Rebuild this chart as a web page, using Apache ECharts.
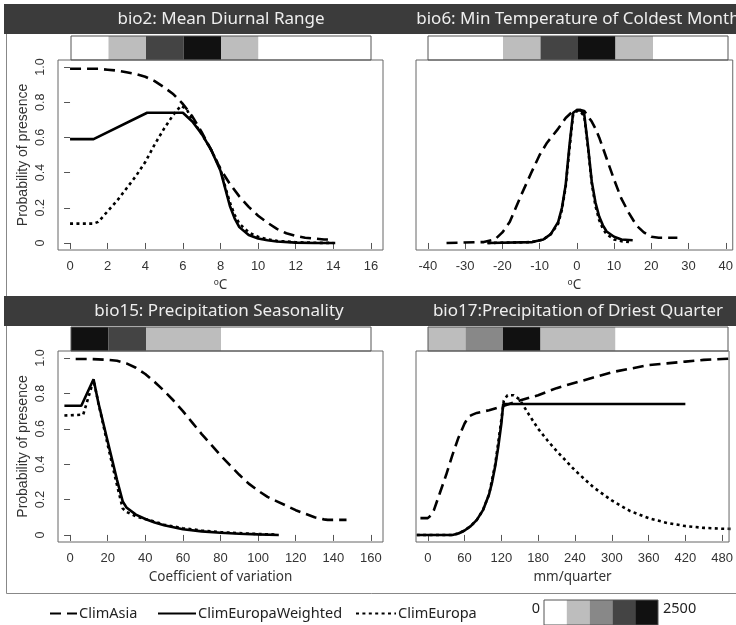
<!DOCTYPE html>
<html>
<head>
<meta charset="utf-8">
<script src="https://cdn.jsdelivr.net/npm/echarts@6/dist/echarts.min.js"></script>
<style>
html,body{margin:0;padding:0;background:#fff;}
#chart{width:736px;height:625px;}
</style>
</head>
<body>
<div id="chart"></div>
<script>
// ---- data ----
var seriesNames = ['ClimAsia', 'ClimEuropaWeighted', 'ClimEuropa'];
var titles = ['bio2: Mean Diurnal Range', 'bio6: Min Temperature of Coldest Month',
              'bio15: Precipitation Seasonality', 'bio17:Precipitation of Driest Quarter'];
var xNames = ['\u00baC', '\u00baC', 'Coefficient of variation', 'mm/quarter'];
var xTicks2 = [0, 2, 4, 6, 8, 10, 12, 14, 16];
var xTicks6 = [-40, -30, -20, -10, 0, 10, 20, 30, 40];
var xTicks15 = [0, 20, 40, 60, 80, 100, 120, 140, 160];
var xTicks17 = [0, 60, 120, 180, 240, 300, 360, 420, 480];
var yTicks = [0, 0.2, 0.4, 0.6, 0.8, 1.0];

// density classes shown in the strips above each panel: [from, to, class]
var strip2 = [[0, 2, 0], [2, 4, 1], [4, 6, 3], [6, 8, 4], [8, 10, 1], [10, 16, 0]];
var strip6 = [[-40, -20, 0], [-20, -10, 1], [-10, 0, 3], [0, 10, 4], [10, 20, 1], [20, 40, 0]];
var strip15 = [[0, 20, 4], [20, 40, 3], [40, 80, 1], [80, 160, 0]];
var strip17 = [[0, 60, 1], [60, 120, 2], [120, 180, 4], [180, 300, 1], [300, 480, 0]];
var colorBar = [[0, 500, 0], [500, 1000, 1], [1000, 1500, 2], [1500, 2000, 3], [2000, 2500, 4]];
var palette = ['#ffffff', '#bdbdbd', '#888888', '#444444', '#111111'];

// bio2
var asia2 = [[0,.99],[0.5,.99],[1,.99],[1.5,.99],[2,.985],[2.5,.98],[3,.97],[3.5,.96],[4,.945],[4.5,.92],[5,.885],[5.5,.845],[6,.79],[6.5,.72],[7,.63],[7.5,.53],[8,.42],[8.5,.335],[9,.265],[9.5,.205],[10,.155],[10.5,.115],[11,.08],[11.5,.055],[12,.04],[12.5,.03],[13,.025],[13.5,.02],[14,.02]];
var euw2 = [[0,.59],[1.25,.59],[4.1,.74],[6,.74],[6.5,.69],[7,.62],[7.5,.53],[8,.41],[8.25,.31],[8.5,.21],[8.75,.14],[9,.09],[9.5,.045],[10,.025],[10.5,.015],[11,.008],[12,.002],[13,0],[14.1,0]];
var eu2 = [[0,.11],[1.25,.11],[1.5,.12],[2,.18],[2.5,.24],[3,.31],[3.5,.38],[4,.46],[4.5,.56],[5,.65],[5.5,.73],[5.9,.78],[6.2,.76],[6.5,.70],[7,.62],[7.5,.53],[8,.42],[8.25,.32],[8.5,.23],[8.75,.16],[9,.11],[9.5,.06],[10,.035],[10.5,.02],[11,.012],[12,.004],[13,.001],[14,0]];
// bio6
var asia6 = [[-35,0],[-25,.005],[-22,.02],[-20,.06],[-18,.12],[-15,.27],[-12,.41],[-10,.5],[-8,.57],[-5,.65],[-3,.71],[-2,.73],[-1,.75],[0,.755],[1,.755],[2,.75],[3,.72],[4,.69],[5,.65],[6,.6],[7,.54],[8,.48],[10,.36],[12,.25],[14,.17],[16,.1],[18,.06],[20,.035],[22,.03],[27,.03]];
var euw6 = [[-24,0],[-12,.005],[-9,.02],[-7,.05],[-5,.12],[-4,.2],[-3,.33],[-2,.55],[-1,.74],[0,.755],[1,.755],[2,.73],[3,.55],[4,.35],[5,.23],[6,.15],[7,.1],[8,.065],[10,.035],[12,.02],[15,.015]];
var eu6 = [[-24,0],[-12,.005],[-9,.02],[-7,.05],[-5,.11],[-4,.19],[-3,.32],[-2,.53],[-1,.73],[0,.75],[1,.745],[2,.72],[3,.54],[4,.34],[5,.21],[6,.13],[7,.08],[8,.05],[10,.02],[12,.01],[14,.005]];
// bio15
var asia15 = [[3,.995],[10,.995],[20,.99],[25,.985],[30,.97],[35,.945],[40,.91],[45,.865],[50,.815],[55,.76],[60,.70],[65,.635],[70,.57],[75,.51],[80,.45],[85,.395],[90,.34],[95,.29],[100,.25],[105,.215],[110,.19],[115,.165],[120,.14],[125,.12],[130,.1],[135,.088],[137,.085],[147,.085]];
var euw15 = [[-3,.73],[6,.73],[12.5,.88],[15,.75],[20,.53],[25,.31],[28,.19],[30,.155],[35,.115],[40,.09],[45,.07],[50,.055],[60,.032],[70,.02],[80,.012],[90,.007],[100,.003],[111,0]];
var eu15 = [[-3,.675],[7,.68],[12.5,.875],[15,.75],[20,.51],[25,.28],[28,.15],[30,.13],[35,.105],[40,.09],[45,.075],[50,.058],[60,.038],[70,.025],[80,.016],[90,.01],[100,.005],[110,.002]];
// bio17
var asia17 = [[-12,.095],[0,.095],[5,.11],[10,.14],[20,.24],[30,.34],[40,.45],[50,.55],[60,.63],[67,.67],[73,.68],[80,.69],[100,.705],[120,.725],[150,.76],[180,.79],[210,.83],[240,.86],[270,.89],[300,.92],[330,.94],[360,.96],[390,.97],[420,.98],[450,.99],[480,.995],[499,.998]];
var euw17 = [[-18,0],[40,0],[50,.008],[60,.025],[70,.05],[80,.085],[90,.14],[100,.23],[105,.3],[110,.39],[115,.5],[120,.63],[123,.74],[420,.74]];
var eu17 = [[-18,0],[40,0],[50,.008],[60,.025],[70,.05],[80,.085],[90,.14],[100,.23],[110,.4],[118,.6],[124,.76],[130,.79],[140,.79],[150,.765],[165,.68],[180,.6],[195,.535],[210,.475],[240,.365],[270,.27],[300,.195],[330,.135],[360,.095],[390,.068],[420,.05],[450,.04],[480,.035],[499,.034]];

// ---- chart ----
var myChart = echarts.init(document.getElementById('chart'));

// panel width is 325px; the right column is cut by the canvas edge after 320px
var panelW = 325;
var plotGrids = [
	{left: 58, top: 60, width: 325, height: 190},
	{left: 416, top: 60, width: 320, height: 190},
	{left: 58, top: 351, width: 325, height: 191},
	{left: 416, top: 351, width: 320, height: 191}
];
var stripGrids = [
	{left: 71, top: 36, width: 300, height: 24},
	{left: 428, top: 36, width: 300, height: 24},
	{left: 71, top: 327, width: 300, height: 24},
	{left: 428, top: 327, width: 300, height: 24}
];
var xRanges = [[0, 16], [-40, 40], [0, 160], [0, 480]];
var xTicks = [xTicks2, xTicks6, xTicks15, xTicks17];
var strips = [strip2, strip6, strip15, strip17];
var curves = [[asia2, euw2, eu2], [asia6, euw6, eu6], [asia15, euw15, eu15], [asia17, euw17, eu17]];
var lineTypes = [[11, 6], 'solid', [3, 3.4]];

var tickFont = 'Liberation Sans, Arial, sans-serif';
var textFont = 'Noto Sans, sans-serif';

var grid = [], xAxis = [], yAxis = [], series = [];

for (var i = 0; i < 4; i++) {
	var g = Object.assign({show: true, borderColor: '#666', borderWidth: 1, backgroundColor: 'transparent', z: 5}, plotGrids[i]);
	grid.push(g);
	var r = xRanges[i], pad = (r[1] - r[0]) * 0.04;
	var lo = r[0] - pad, hi = r[1] + pad;
	var hiShown = lo + (hi - lo) * plotGrids[i].width / panelW;
	xAxis.push({
		type: 'value', gridIndex: i, min: lo, max: hiShown,
		name: xNames[i], nameLocation: 'middle', nameGap: 28,
		nameTextStyle: {fontFamily: textFont, fontSize: 13.5, color: '#333'},
		axisLine: {show: false}, splitLine: {show: false},
		axisTick: {show: true, length: 6, lineStyle: {color: '#555'}, customValues: xTicks[i]},
		axisLabel: {show: true, margin: 10, fontFamily: tickFont, fontSize: 13, color: '#333', customValues: xTicks[i]}
	});
	var left = (i % 2 == 0);
	yAxis.push({
		type: 'value', gridIndex: i, min: -0.04, max: 1.04,
		name: left ? 'Probability of presence' : '', nameLocation: 'middle', nameGap: 28,
		nameTextStyle: {fontFamily: tickFont, fontSize: 14, color: '#333'},
		axisLine: {show: false}, splitLine: {show: false},
		axisTick: {show: left, length: 6, lineStyle: {color: '#555'}, customValues: yTicks},
		axisLabel: {show: left, rotate: 90, margin: 11, fontFamily: tickFont, fontSize: 12.5, color: '#333',
			customValues: yTicks,
			formatter: function (v) { return v == 0 ? '0' : v.toFixed(1); }}
	});
	for (var k = 0; k < 3; k++) {
		series.push({
			name: seriesNames[k], type: 'line', xAxisIndex: i, yAxisIndex: i,
			data: curves[i][k], symbol: 'none', clip: true, z: 3,
			lineStyle: {color: '#000', width: 2.6, type: lineTypes[k]},
			itemStyle: {color: '#000'}
		});
	}
}

function cellItem(params, api) {
	var p0 = api.coord([api.value(0), 1]);
	var p1 = api.coord([api.value(1), 0]);
	return {
		type: 'rect',
		shape: {x: p0[0], y: p0[1], width: p1[0] - p0[0], height: p1[1] - p0[1]},
		style: {fill: palette[api.value(2)]}
	};
}

// strips above panels
for (var j = 0; j < 4; j++) {
	var s = stripGrids[j];
	grid.push({left: s.left, top: s.top, width: s.width, height: s.height, show: true,
		borderColor: '#555', borderWidth: 1, backgroundColor: 'transparent', z: 5});
	xAxis.push({type: 'value', gridIndex: 4 + j, min: xRanges[j][0], max: xRanges[j][1], show: false});
	yAxis.push({type: 'value', gridIndex: 4 + j, min: 0, max: 1, show: false});
	series.push({type: 'custom', xAxisIndex: 4 + j, yAxisIndex: 4 + j, data: strips[j], renderItem: cellItem, silent: true});
}

// colour bar legend
grid.push({left: 544, top: 600, width: 114, height: 30, show: true, borderColor: '#555', borderWidth: 1,
	backgroundColor: 'transparent', z: 5});
xAxis.push({type: 'value', gridIndex: 8, min: 0, max: 2500, show: false});
yAxis.push({type: 'value', gridIndex: 8, min: 0, max: 1, show: false});
series.push({type: 'custom', xAxisIndex: 8, yAxisIndex: 8, data: colorBar, renderItem: cellItem, silent: true});

var legendBase = {orient: 'horizontal', top: 601, itemHeight: 12, selectedMode: false,
	itemStyle: {opacity: 0},
	textStyle: {fontFamily: textFont, fontSize: 14.5, color: '#222', padding: [0, 0, 0, -3]}};
var legend = [
	Object.assign({}, legendBase, {left: 44, itemWidth: 27, data: [seriesNames[0]]}),
	Object.assign({}, legendBase, {left: 152, itemWidth: 38, data: [seriesNames[1]]}),
	Object.assign({}, legendBase, {left: 350, itemWidth: 40, data: [seriesNames[2]]})
];

var titleStyle = {fill: '#eeeeee', fontFamily: textFont, fontSize: 17};
var graphic = [
	{type: 'rect', left: 4, top: 4, shape: {width: 740, height: 587}, style: {fill: 'none', stroke: '#888', lineWidth: 1}, z: -1},
	{type: 'rect', left: 4, top: 4, shape: {width: 740, height: 30}, style: {fill: '#3b3b3b'}, z: -1},
	{type: 'rect', left: 4, top: 296, shape: {width: 740, height: 30}, style: {fill: '#3b3b3b'}, z: -1},
	{type: 'text', x: 221, y: 19, style: Object.assign({text: titles[0], align: 'center', verticalAlign: 'middle'}, titleStyle)},
	{type: 'text', x: 578, y: 19, style: Object.assign({text: titles[1], align: 'center', verticalAlign: 'middle'}, titleStyle)},
	{type: 'text', x: 219, y: 311, style: Object.assign({text: titles[2], align: 'center', verticalAlign: 'middle'}, titleStyle)},
	{type: 'text', x: 578, y: 311, style: Object.assign({text: titles[3], align: 'center', verticalAlign: 'middle'}, titleStyle)},
	{type: 'text', x: 540, y: 609, style: {text: '0', align: 'right', verticalAlign: 'middle', fill: '#222', fontFamily: textFont, fontSize: 14.5}},
	{type: 'text', x: 663, y: 609, style: {text: '2500', align: 'left', verticalAlign: 'middle', fill: '#222', fontFamily: textFont, fontSize: 14.5}}
];

var option = {
	animation: false,
	backgroundColor: '#ffffff',
	grid: grid,
	xAxis: xAxis,
	yAxis: yAxis,
	legend: legend,
	graphic: graphic,
	series: series
};
myChart.setOption(option);
</script>
</body>
</html>
